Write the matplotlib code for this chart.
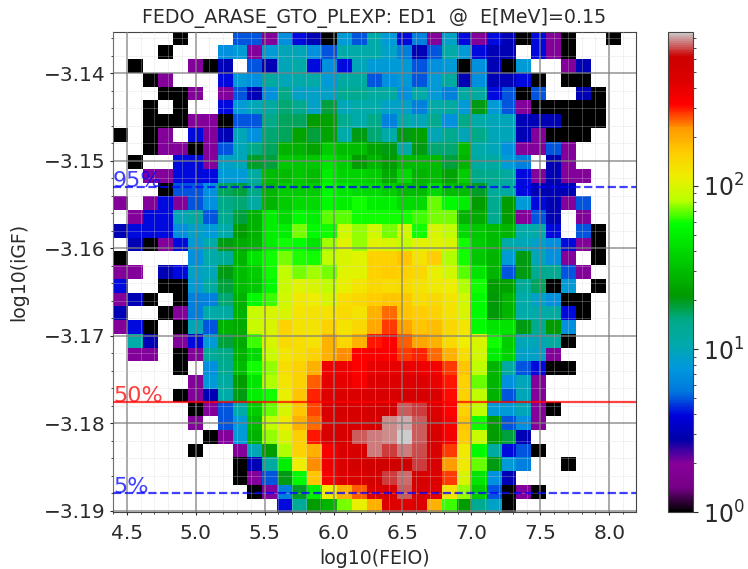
from matplotlib import pyplot as plt
from matplotlib.colors import LogNorm
from matplotlib.ticker import MultipleLocator
import numpy as np

# counts per cell, top row first, 0 = empty cell
row00 = [0,0,0,0,1,0,0,0,5,5,2,7,4,3,1,8,5,11,8,4,6,2,9,4,2,4,3,1,4,2,1,0,0,1,0]
row01 = [0,0,0,1,0,0,0,7,8,2,8,10,10,7,5,11,11,11,9,6,3,5,11,8,4,3,3,0,4,2,1,0,0,0,0]
row02 = [0,1,0,0,0,2,1,3,0,5,3,10,11,4,7,4,10,8,8,8,5,7,8,1,7,3,1,8,0,0,2,3,0,0,0]
row03 = [0,0,1,2,0,0,0,4,8,7,12,10,11,11,8,12,12,5,7,8,5,8,12,3,7,3,3,4,1,0,1,1,0,0,0]
row04 = [0,0,0,1,1,2,0,2,5,3,7,15,9,9,9,14,14,12,12,7,11,8,6,12,12,4,5,1,5,0,0,3,1,0,0]
row05 = [0,0,1,0,1,0,0,4,8,10,12,16,14,9,18,10,11,11,9,9,6,11,12,8,20,8,5,2,1,1,1,1,1,0,0]
row06 = [0,0,1,1,1,2,2,1,5,5,15,17,17,22,23,14,11,15,6,11,10,14,7,15,11,10,10,3,3,3,1,1,1,0,0]
row07 = [1,0,1,2,0,4,2,3,10,7,16,17,24,18,24,11,20,16,11,20,23,10,14,10,15,10,10,3,2,1,1,1,0,0,0]
row08 = [0,0,1,2,2,1,2,5,10,15,17,27,27,24,35,30,30,24,20,11,20,16,16,30,11,10,7,2,2,5,2,0,0,0,0]
row09 = [0,1,0,0,4,4,2,9,10,19,18,33,33,33,45,35,22,28,22,30,30,30,18,28,12,12,8,6,0,3,2,0,0,0,0]
row10 = [0,0,2,2,4,4,4,8,8,12,30,30,33,30,50,38,38,35,25,40,28,30,24,35,15,14,12,4,2,3,2,2,0,0,0]
row11 = [0,0,0,1,5,5,7,17,18,15,28,35,35,35,55,45,40,40,35,30,30,40,30,30,19,13,12,4,3,3,3,0,0,0,0]
row12 = [2,0,2,4,2,5,7,15,16,12,28,35,40,40,55,50,60,50,50,40,40,70,55,50,22,14,22,8,4,3,2,5,0,0,0]
row13 = [0,2,4,4,10,12,5,14,18,27,50,40,55,50,68,68,60,60,60,60,65,72,72,28,25,14,22,2,5,3,0,2,0,0,0]
row14 = [3,4,4,4,7,9,8,11,22,27,50,50,72,55,60,95,75,95,72,95,60,100,85,40,33,30,28,11,11,4,0,5,1,0,0]
row15 = [0,3,1,2,4,8,11,20,25,28,50,60,58,45,78,105,75,105,100,85,105,105,100,60,35,30,11,10,9,7,4,2,1,0,0]
row16 = [1,0,0,0,0,7,11,13,28,45,60,72,62,60,85,100,105,150,150,170,130,160,80,60,33,28,8,20,10,7,2,0,1,0,0]
row17 = [2,2,0,3,4,9,10,20,30,35,60,85,72,78,72,105,105,150,160,150,145,110,95,68,45,28,5,20,14,14,5,2,0,0,0]
row18 = [4,0,0,1,1,8,12,18,30,33,55,90,105,100,85,110,125,145,135,140,130,120,115,80,60,22,23,13,17,1,8,0,1,0,0]
row19 = [2,3,1,0,1,6,6,16,27,55,65,95,120,115,100,135,145,160,170,165,135,140,125,95,55,21,28,11,9,7,1,1,0,0,0]
row20 = [3,0,0,1,2,6,11,12,27,90,100,100,125,130,130,140,130,190,250,170,160,150,130,100,55,21,28,11,11,12,4,1,0,0,0]
row21 = [2,4,1,0,1,10,5,27,25,90,100,150,130,130,150,130,145,200,280,210,170,175,145,125,55,45,45,20,14,22,7,0,0,0,0]
row22 = [0,11,3,0,2,4,8,18,25,65,100,140,135,130,190,145,190,300,320,260,210,190,140,115,100,60,35,10,10,12,1,0,0,0,0]
row23 = [0,2,2,0,1,2,13,15,27,40,90,125,135,150,190,230,320,340,330,280,290,250,190,135,95,50,38,9,9,2,0,0,0,0,0]
row24 = [0,0,0,0,1,0,7,14,30,60,75,135,150,190,370,380,330,400,400,400,380,350,280,170,85,28,12,5,4,1,1,0,0,0,0]
row25 = [0,0,0,0,0,2,8,12,22,45,80,125,150,260,410,400,340,450,450,450,450,390,300,150,70,28,7,10,2,0,0,0,0,0,0]
row26 = [0,0,0,0,1,2,3,11,20,50,60,110,170,290,440,470,470,480,480,560,500,480,310,150,85,27,5,10,2,0,0,0,0,0,0]
row27 = [0,0,0,0,0,1,2,5,11,35,70,100,170,270,480,540,500,560,600,730,680,450,320,150,85,8,8,10,2,1,0,0,0,0,0]
row28 = [0,0,0,0,0,2,0,5,8,30,85,120,190,250,470,500,500,520,780,820,730,480,340,170,60,22,5,7,2,0,0,0,0,0,0]
row29 = [0,0,0,0,0,0,1,2,8,27,75,100,155,300,500,500,720,770,790,860,730,500,350,160,90,22,18,3,0,0,0,0,0,0,0]
row30 = [0,0,0,0,0,1,0,0,2,10,22,80,150,190,340,470,500,770,680,760,700,490,280,120,55,12,4,5,1,0,0,0,0,0,0]
row31 = [0,0,0,0,0,0,0,0,1,3,12,50,115,230,370,480,540,570,570,600,680,490,220,120,70,20,8,6,0,0,1,0,0,0,0]
row32 = [0,0,0,0,0,0,0,0,1,2,5,20,55,170,340,450,470,560,690,740,500,450,280,100,45,7,3,0,0,0,0,0,0,0,0]
row33 = [0,0,0,0,0,0,0,0,0,1,2,6,19,50,115,190,260,470,500,720,490,430,130,75,35,5,1,2,1,0,0,0,0,0,0]
row34 = [0,0,0,0,0,0,0,0,0,0,0,4,13,22,28,72,110,190,450,420,450,190,65,22,14,9,1,0,0,0,0,0,0,0,0]

# percentile levels of log10(iGF)
levels = [-3.18801, -3.17757, -3.15305]
level_labels = ['5%', '50%', '95%']
level_colors = ['blue', 'red', 'blue']

xedges = np.linspace(4.4, 8.194, 36)
yedges = np.linspace(-3.13525, -3.1902, 36)

counts = np.array([row00, row01, row02, row03, row04, row05, row06, row07, row08, row09,
                   row10, row11, row12, row13, row14, row15, row16, row17, row18, row19,
                   row20, row21, row22, row23, row24, row25, row26, row27, row28, row29,
                   row30, row31, row32, row33, row34], dtype=float)
counts = np.ma.masked_equal(counts, 0)

text_col = '#2b2b2b'

fig = plt.figure(figsize=(7.48, 5.69), dpi=100)
ax = fig.add_axes([113/748, 1-512.3/569, 523/748, 480.6/569])
cax = fig.add_axes([668.3/748, 1-512.3/569, 25/748, 480.6/569])

mesh = ax.pcolormesh(xedges, yedges, counts, cmap='nipy_spectral', norm=LogNorm(vmin=1, vmax=880))

ax.set_xlim(xedges[0], xedges[-1])
ax.set_ylim(yedges[-1], yedges[0])
ax.xaxis.set_major_locator(MultipleLocator(0.5))
ax.xaxis.set_minor_locator(MultipleLocator(0.1))
ax.yaxis.set_major_locator(MultipleLocator(0.01))
ax.yaxis.set_minor_locator(MultipleLocator(0.002))
ax.set_axisbelow(False)
ax.grid(which='major', color='gray', lw=1.1, alpha=0.85)
ax.grid(which='minor', color='lightgray', lw=0.6, alpha=0.35)
ax.tick_params(axis='both', which='major', labelsize=14.5, length=2.5, width=0.8,
               labelcolor=text_col, color=text_col)
ax.tick_params(axis='x', which='major', pad=6)
ax.tick_params(axis='y', which='major', pad=3)
ax.tick_params(axis='both', which='minor', length=1.5, width=0.6, color=text_col)
for sp in ax.spines.values():
    sp.set_color('#444444')

for lev, lab, col in zip(levels, level_labels, level_colors):
    if col == 'blue':
        ax.axhline(lev, color=col, ls='--', lw=1.6, alpha=0.75, zorder=3)
    else:
        ax.axhline(lev, color=col, ls='-', lw=1.6, alpha=0.75, zorder=3)
    ax.text(xedges[0], lev, lab, color=col, fontsize=16, alpha=0.75, va='baseline', ha='left', zorder=4)

ax.set_title('FEDO_ARASE_GTO_PLEXP: ED1  @  E[MeV]=0.15', fontsize=13.7, pad=6, color=text_col)
ax.set_xlabel('log10(FEIO)', fontsize=13.6, labelpad=4, color=text_col)
ax.set_ylabel('log10(iGF)', fontsize=13.6, labelpad=11, color=text_col)

cb = fig.colorbar(mesh, cax=cax)
cb.ax.tick_params(which='major', labelsize=17, labelcolor=text_col, color=text_col)
cb.ax.tick_params(which='minor', color=text_col)
cb.outline.set_edgecolor('#444444')

plt.savefig('out.png', dpi=100)
